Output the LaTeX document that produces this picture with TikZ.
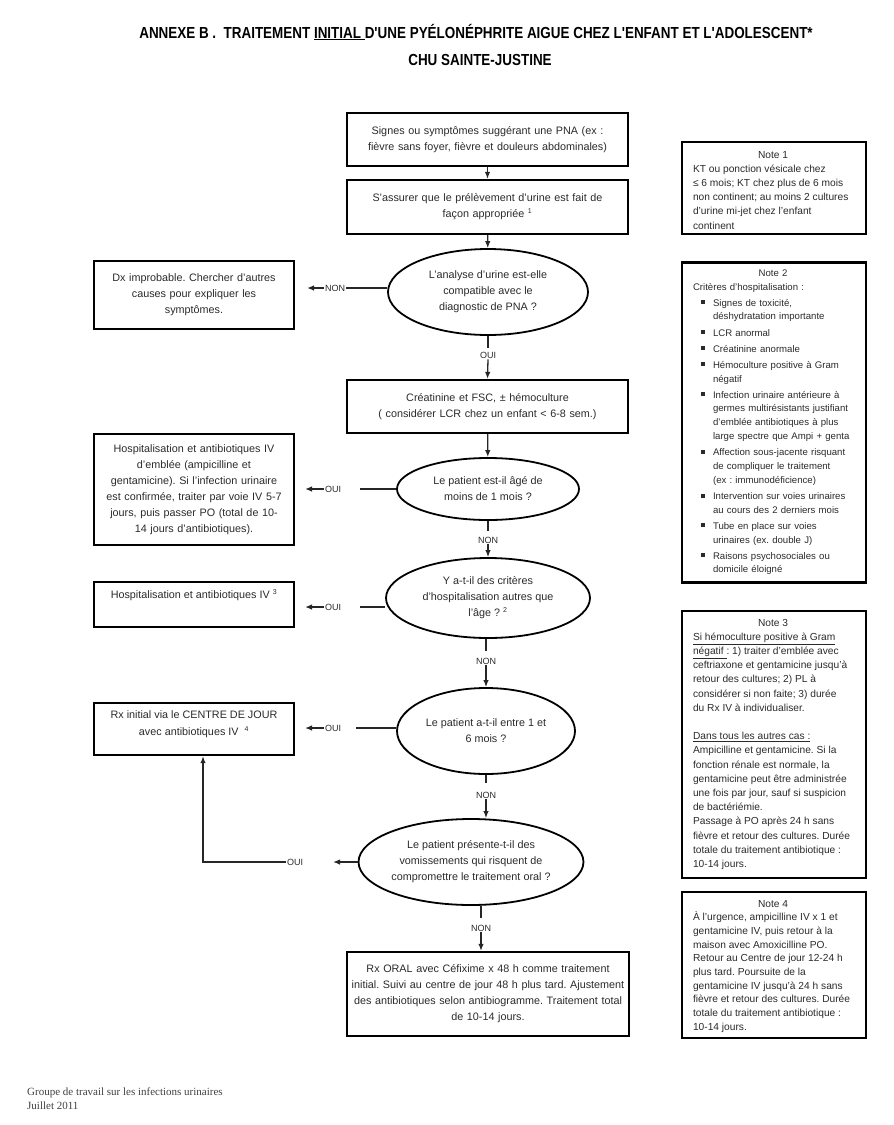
\documentclass[tikz,border=0pt]{standalone}
\usepackage{fontspec}
\setmainfont{Liberation Sans}
\newfontfamily\titlefont{Liberation Sans}[FakeStretch=0.84]
\newfontfamily\footfont{Liberation Serif}
\usetikzlibrary{shapes.geometric,arrows.meta}
\definecolor{txt}{HTML}{2A2A2A}
\frenchspacing
\begin{document}
\begin{tikzpicture}[x=1pt,y=-1pt,
  every node/.style={text=txt},
  box/.style={draw=black, line width=2.3pt, align=center, inner sep=0pt, font=\fontsize{10.8}{16}\selectfont},
  qel/.style={draw=black, ellipse, line width=1.8pt, align=center, inner sep=0pt, font=\fontsize{10.8}{16}\selectfont},
  note/.style={draw=black, line width=2.3pt, inner sep=0pt},
  notetext/.style={align=left, inner sep=0pt, font=\fontsize{10.2}{14.2}\selectfont},
  lab/.style={inner sep=1pt, font=\fontsize{9}{10}\selectfont},
  conn/.style={draw=black!85, line width=1.3pt},
  arr/.style={conn, -{Latex[length=7pt,width=5.5pt]}},
]
\useasboundingbox (0,0) rectangle (894,1125);

% title
\node[font=\titlefont\bfseries\fontsize{16}{18}\selectfont, text=black] (title1) at (476,32)
  {ANNEXE B .\ \ TRAITEMENT \underline{INITIAL }D'UNE PYÉLONÉPHRITE AIGUE CHEZ L'ENFANT ET L'ADOLESCENT*};
\node[font=\titlefont\bfseries\fontsize{16}{18}\selectfont, text=black] (title2) at (480,60) {CHU SAINTE-JUSTINE};

% main column
\node[box, minimum width=281pt, minimum height=53pt, text width=270pt] (b1) at (487.5,139.5)
  {Signes ou symptômes suggérant une PNA (ex :\\ fièvre sans foyer, fièvre et douleurs abdominales)};
\node[box, minimum width=281pt, minimum height=54pt, text width=270pt] (b2) at (487.5,207)
  {S'assurer que le prélèvement d'urine est fait de\\ façon appropriée \textsuperscript{\scriptsize 1}};
\node[qel, minimum width=200pt, minimum height=86pt] (e1) at (488,292)
  {L'analyse d'urine est-elle\\ compatible avec le\\ diagnostic de PNA ?};
\node[box, minimum width=281pt, minimum height=53pt, text width=275pt] (b3) at (487.5,406.5)
  {Créatinine et FSC, ± hémoculture\\ ( considérer LCR chez un enfant < 6-8 sem.)};
\node[qel, minimum width=182pt, minimum height=62pt] (e2) at (488,489)
  {Le patient est-il âgé de\\ moins de 1 mois ?};
\node[qel, minimum width=204pt, minimum height=80pt] (e3) at (488,598)
  {Y a-t-il des critères\\ d'hospitalisation autres que\\ l'âge ? \textsuperscript{\scriptsize 2}};
\node[qel, minimum width=178pt, minimum height=86pt] (e4) at (486,731)
  {Le patient a-t-il entre 1 et\\ 6 mois ?};
\node[qel, minimum width=220pt, minimum height=86pt] (e5) at (471,862)
  {Le patient présente-t-il des\\ vomissements qui risquent de\\ compromettre le traitement oral ?};
\node[box, minimum width=282pt, minimum height=84pt, text width=278pt] (b4) at (488,994)
  {Rx ORAL avec Céfixime x 48 h comme traitement\\ initial. Suivi au centre de jour 48 h plus tard. Ajustement\\ des antibiotiques selon antibiogramme. Traitement total\\ de 10-14 jours.};

% left column
\node[box, minimum width=200pt, minimum height=68pt, text width=195pt] (l1) at (194,295)
  {Dx improbable. Chercher d'autres\\ causes pour expliquer les\\ symptômes.};
\node[box, minimum width=200pt, minimum height=111pt, text width=195pt, font=\fontsize{10.8}{16}\selectfont] (l2) at (194,489.5)
  {Hospitalisation et antibiotiques IV\\ d'emblée (ampicilline et\\ gentamicine). Si l'infection urinaire\\ est confirmée, traiter par voie IV 5-7\\ jours, puis passer PO (total de 10-\\ 14 jours d'antibiotiques).};
\node[box, minimum width=200pt, minimum height=45pt] (l3) at (194,604.5) {};
\node[anchor=north, inner sep=0pt, font=\fontsize{10.8}{16}\selectfont] (l3t) at ([yshift=-9pt]l3.north)
  {Hospitalisation et antibiotiques IV \textsuperscript{\scriptsize 3}};
\node[box, minimum width=200pt, minimum height=52pt] (l4) at (194,729) {};
\node[anchor=north, align=center, inner sep=0pt, font=\fontsize{10.8}{17}\selectfont] (l4t) at ([yshift=-9pt]l4.north)
  {Rx initial via le CENTRE DE JOUR\\ avec antibiotiques IV \ \textsuperscript{\scriptsize 4}};

% notes
\node[note, minimum width=184pt, minimum height=92pt] (n1) at (774,188) {};
\node[notetext, anchor=north west] (n1t) at ([xshift=12pt,yshift=-10pt]n1.north west)
  {\makebox[160pt]{Note 1}\\
   KT ou ponction vésicale chez\\
   ≤ 6 mois; KT chez plus de 6 mois\\
   non continent; au moins 2 cultures\\
   d'urine mi-jet chez l'enfant\\
   continent};

\node[note, minimum width=184pt, minimum height=320pt] (n2) at (774,422.5) {};
\node[notetext, anchor=north west, text width=168pt, font=\fontsize{9.6}{13.8}\selectfont] (n2t) at ([xshift=12pt,yshift=-8pt]n2.north west)
  {\makebox[160pt]{Note 2}\par
   Critères d'hospitalisation :\par\vspace{2.3pt}
   \begin{list}{\rule[1.8pt]{4pt}{4pt}}{\setlength{\leftmargin}{20pt}\setlength{\labelwidth}{4pt}\setlength{\labelsep}{8pt}\setlength{\itemsep}{2.3pt}\setlength{\parsep}{0pt}\setlength{\topsep}{0pt}\setlength{\partopsep}{0pt}}
   \item Signes de toxicité,\\ déshydratation importante
   \item LCR anormal
   \item Créatinine anormale
   \item Hémoculture positive à Gram\\ négatif
   \item Infection urinaire antérieure à\\ germes multirésistants justifiant\\ d'emblée antibiotiques à plus\\ large spectre que Ampi + genta
   \item Affection sous-jacente risquant\\ de compliquer le traitement\\ (ex : immunodéficience)
   \item Intervention sur voies urinaires\\ au cours des 2 derniers mois
   \item Tube en place sur voies\\ urinaires (ex. double J)
   \item Raisons psychosociales ou\\ domicile éloigné
   \end{list}};

\node[note, minimum width=184pt, minimum height=267pt] (n3) at (774,744.5) {};
\node[notetext, anchor=north west] (n3t) at ([xshift=12pt,yshift=-9pt]n3.north west)
  {\makebox[160pt]{Note 3}\\
   \underline{Si hémoculture positive à Gram}\\
   \underline{négatif }: 1) traiter d'emblée avec\\
   ceftriaxone et gentamicine jusqu'à\\
   retour des cultures; 2) PL à\\
   considérer si non faite; 3) durée\\
   du Rx IV à individualiser.\\[14.2pt]
   \underline{Dans tous les autres cas :}\\
   Ampicilline et gentamicine. Si la\\
   fonction rénale est normale, la\\
   gentamicine peut être administrée\\
   une fois par jour, sauf si suspicion\\
   de bactériémie.\\
   Passage à PO après 24 h sans\\
   fièvre et retour des cultures. Durée\\
   totale du traitement antibiotique :\\
   10-14 jours.};

\node[note, minimum width=184pt, minimum height=146pt] (n4) at (774,965) {};
\node[notetext, anchor=north west, font=\fontsize{10.2}{13.7}\selectfont] (n4t) at ([xshift=12pt,yshift=-9pt]n4.north west)
  {\makebox[160pt]{Note 4}\\
   À l'urgence, ampicilline IV x 1 et\\
   gentamicine IV, puis retour à la\\
   maison avec Amoxicilline PO.\\
   Retour au Centre de jour 12-24 h\\
   plus tard. Poursuite de la\\
   gentamicine IV jusqu'à 24 h sans\\
   fièvre et retour des cultures. Durée\\
   totale du traitement antibiotique :\\
   10-14 jours.};

% footer
\node[anchor=north west, align=left, inner sep=0pt, text=black!75, font=\footfont\fontsize{11}{13.5}\selectfont] (foot) at (27,1088)
  {Groupe de travail sur les infections urinaires\\ Juillet 2011};

% labels
\node[lab] (oui1) at (488,355) {OUI};
\node[lab] (non1) at (335,288) {NON};
\node[lab] (oui2) at (333,489) {OUI};
\node[lab] (non2) at (488,540) {NON};
\node[lab] (oui3) at (333,607) {OUI};
\node[lab] (non3) at (486,661) {NON};
\node[lab] (oui4) at (333,728) {OUI};
\node[lab] (non4) at (486,795) {NON};
\node[lab] (oui5) at (295,862) {OUI};
\node[lab] (non5) at (481,928) {NON};

\coordinate (t1) at (307,288);
\coordinate (t2) at (305,489);
\coordinate (t3) at (305,607);
\coordinate (t4) at (305,728);
\coordinate (t5) at (333,862);
\coordinate (c5) at (203,862);

% connectors
\draw[arr] (b1) -- (b2);
\draw[arr] (b2) -- (e1);
\draw[conn] (e1.south) -- ++(0,12);
\draw[arr] (oui1.south) -- (b3.north);
\draw[conn] (e1.west |- non1) -- (non1.east);
\draw[arr] (non1.west) -- (t1);
\draw[arr] (b3) -- (e2);
\draw[conn] (e2.west) -- ++(-36,0);
\draw[arr] (oui2.west) -- (t2);
\draw[conn] (e2.south) -- ++(0,10);
\draw[arr] (non2.south) -- (e3.north);
\draw[conn] (e3.west |- oui3) -- ++(-25,0);
\draw[arr] (oui3.west) -- (t3);
\draw[conn] (e3.south -| non3) -- ++(0,12);
\draw[arr] (non3.south) -- (non3.south |- e4.north);
\draw[conn] (e4.west |- oui4) -- ++(-40,0);
\draw[arr] (oui4.west) -- (t4);
\draw[conn] (e4.south) -- ++(0,8);
\draw[arr] (non4.south) -- (non4.south |- e5.north);
\draw[arr] (e5.west) -- (t5);
\draw[arr] (oui5.west) -- (c5) -- (c5 |- l4.south);
\draw[conn] (e5.south -| non5) -- ++(0,12);
\draw[arr] (non5.south) -- (non5.south |- b4.north);
\end{tikzpicture}
\end{document}
